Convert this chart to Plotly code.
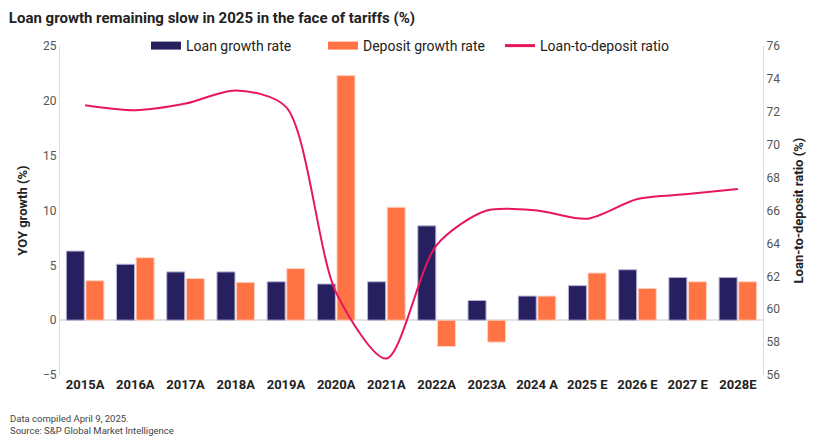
import plotly.graph_objects as go

# Data
years = ["2015A", "2016A", "2017A", "2018A", "2019A", "2020A", "2021A",
         "2022A", "2023A", "2024 A", "2025 E", "2026 E", "2027 E", "2028E"]
loan_growth = [6.3, 5.1, 4.4, 4.4, 3.5, 3.3, 3.5, 8.6, 1.8, 2.2, 3.15, 4.6, 3.9, 3.9]
deposit_growth = [3.6, 5.7, 3.8, 3.45, 4.7, 22.3, 10.3, -2.4, -2.0, 2.2, 4.3, 2.9, 3.5, 3.5]
ltd_ratio = [72.4, 72.1, 72.5, 73.3, 72.3, 61.0, 57.0, 63.9, 66.0, 66.0, 65.5, 66.7, 67.0, 67.3]

NAVY = "#272060"
ORANGE = "#ff7345"
PINK = "#e8175d"
FONT = "Roboto"

fig = go.Figure()

fig.add_trace(go.Bar(
    x=years, y=loan_growth, name="Loan growth rate", showlegend=False,
    marker=dict(color=NAVY, line=dict(color="#b9b4d6", width=1)),
))
fig.add_trace(go.Bar(
    x=years, y=deposit_growth, name="Deposit growth rate", showlegend=False,
    marker=dict(color=ORANGE, line=dict(color="#ffd3c2", width=1)),
))
fig.add_trace(go.Scatter(
    x=years, y=ltd_ratio, name="Loan-to-deposit ratio", yaxis="y2", showlegend=False,
    mode="lines", line=dict(color=PINK, width=2, shape="spline", smoothing=0.8),
))

# legend entries with the wide flat swatches of the original
for name, color, width in [("Loan growth rate", NAVY, 8),
                           ("Deposit growth rate", ORANGE, 8),
                           ("Loan-to-deposit ratio", PINK, 3)]:
    fig.add_trace(go.Scatter(
        x=[None], y=[None], mode="lines", name=name,
        line=dict(color=color, width=width),
    ))

# boundary ticks on the zero line (drawn by an empty overlaying axis)
boundaries = [i + 0.5 for i in range(len(years) - 1)]

fig.update_layout(
    width=831, height=442,
    margin=dict(l=52, r=76, t=38, b=75, autoexpand=False),
    paper_bgcolor="white", plot_bgcolor="white",
    font=dict(family=FONT, color="#333333", size=12),
    barmode="group", bargap=0.22, bargroupgap=0.08,
    title=dict(
        text="<b>Loan growth remaining slow in 2025 in the face of tariffs (%)</b>",
        x=0.001, xanchor="left", y=0.979, yanchor="middle",
        font=dict(family=FONT, size=15, color="#222222"),
    ),
    legend=dict(
        orientation="h", x=0.5, xanchor="center", y=1.0, yanchor="middle",
        font=dict(family=FONT, size=14, color="#222222"),
        bgcolor="rgba(0,0,0,0)", tracegroupgap=0, entrywidth=132,
    ),
    xaxis=dict(
        type="category", showline=False, ticks="", showgrid=False,
        tickfont=dict(family=FONT, size=13, color="#222222", weight="bold"),
        range=[-0.5, len(years) - 0.5],
    ),
    xaxis3=dict(
        overlaying="x", anchor="free", position=1 / 6,
        range=[-0.5, len(years) - 0.5], showline=True, linecolor="#e3e3e3",
        linewidth=1.5, ticks="outside", ticklen=5, tickcolor="#dddddd",
        tickvals=boundaries, showticklabels=False, showgrid=False, zeroline=False,
    ),
    yaxis=dict(
        range=[-5, 25], tickvals=[-5, 0, 5, 10, 15, 20, 25],
        showgrid=False, zeroline=True, zerolinecolor="#e3e3e3", zerolinewidth=1.5,
        showline=True, linecolor="#dddddd", linewidth=1,
        ticks="", tickfont=dict(size=12, color="#555555"),
        title=dict(text="<b>YOY growth (%)</b>", font=dict(size=13, color="#222222"),
                   standoff=12),
    ),
    yaxis2=dict(
        range=[56, 76], tickvals=list(range(56, 77, 2)),
        overlaying="y", side="right", showgrid=False, zeroline=False,
        showline=True, linecolor="#dddddd", linewidth=1,
        ticks="", tickfont=dict(size=12, color="#555555"),
        title=dict(text="<b>Loan-to-deposit ratio (%)</b>",
                   font=dict(size=13, color="#222222"), standoff=14),
    ),
)

fig.add_annotation(
    text="Data compiled April 9, 2025.<br>Source: S&P Global Market Intelligence",
    xref="paper", yref="paper", x=-0.074, y=-0.109, xanchor="left", yanchor="top",
    align="left", showarrow=False, font=dict(family=FONT, size=9.5, color="#444444"),
)

fig.write_html("out.html")
